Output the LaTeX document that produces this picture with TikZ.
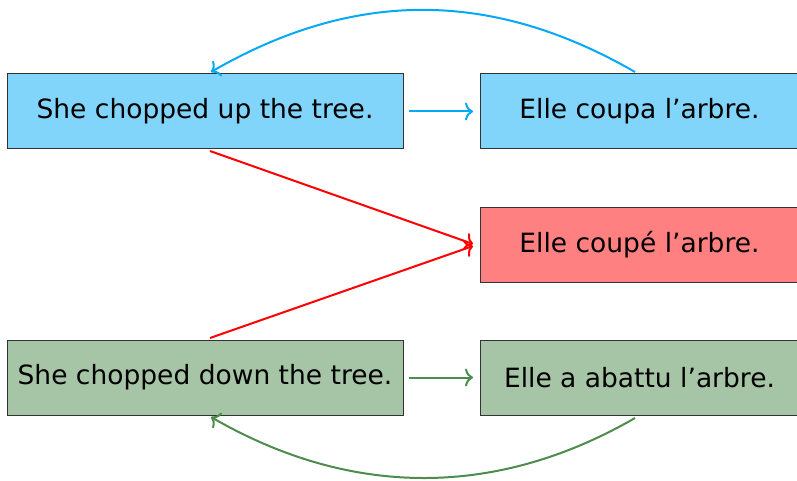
\documentclass[tikz,border=0pt]{standalone}
\usepackage{fontspec}
\setmainfont{DejaVu Sans}
\usetikzlibrary{arrows.meta}
\definecolor{bluefill}{HTML}{81D4FA}
\definecolor{bluearrow}{HTML}{03A9F4}
\definecolor{redfill}{HTML}{FF8080}
\definecolor{greenfill}{HTML}{A6C4A6}
\definecolor{greenarrow}{HTML}{4C8C4C}
\definecolor{boxline}{HTML}{333333}
\begin{document}
\begin{tikzpicture}[x=1pt,y=1pt,
  sent/.style={draw=boxline, line width=1pt, inner sep=0pt, outer sep=0pt,
    font=\fontsize{26.5}{32}\selectfont, text=black},
  leftbox/.style={sent, minimum width=396pt, minimum height=75pt},
  rightbox/.style={sent, minimum width=319pt, minimum height=75pt},
  conn/.style={line width=2pt, -{To[length=8pt,width=18pt]}}
]
\useasboundingbox (0,0) rectangle (797,480);
\clip (0,0) rectangle (797,480);
\node[leftbox, fill=bluefill] (s1) at (205,368.5) {She chopped up the tree.};
\node[rightbox, fill=bluefill] (t1) at (639.5,368.5) {Elle coupa l’arbre.};
\node[rightbox, fill=redfill] (t2) at (639.5,235) {Elle coupé l’arbre.};
\node[leftbox, fill=greenfill] (s2) at (205,102.5) {She chopped down the tree.};
\node[rightbox, fill=greenfill] (t3) at (639.5,102.5) {Elle a abattu l’arbre.};

\draw[conn, bluearrow] ([xshift=6pt]s1.east) -- ([xshift=-7pt]t1.west);
\draw[conn, greenarrow] ([xshift=6pt]s2.east) -- ([xshift=-7pt]t3.west);
\draw[conn, red] ([xshift=5pt,yshift=-2pt]s1.south) -- ([xshift=-7pt,yshift=1pt]t2.west);
\draw[conn, red] ([xshift=5pt,yshift=2pt]s2.north) -- ([xshift=-7pt,yshift=-1pt]t2.west);
\draw[conn, bluearrow] ([xshift=-4.5pt,yshift=2pt]t1.north) to[out=150,in=30] ([xshift=6pt,yshift=2pt]s1.north);
\draw[conn, greenarrow] ([xshift=-4.5pt,yshift=-3pt]t3.south) to[out=-150,in=-30,looseness=0.97] ([xshift=6pt,yshift=-2pt]s2.south);
\end{tikzpicture}
\end{document}
